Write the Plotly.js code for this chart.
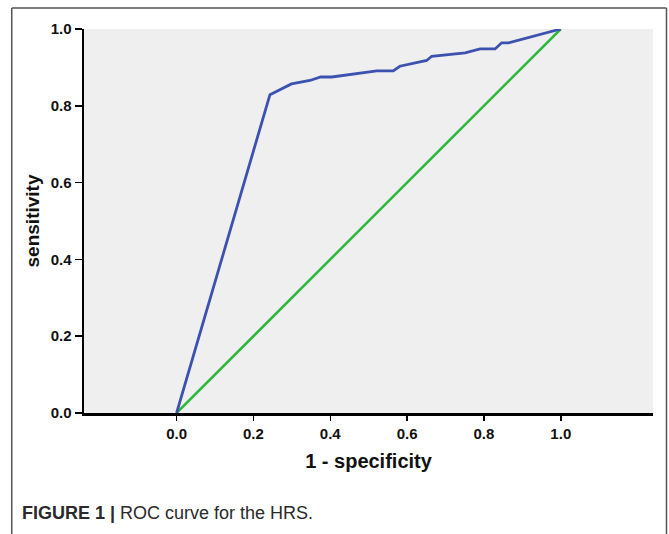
<!DOCTYPE html>
<html>
<head>
<meta charset="utf-8">
<script src="https://cdn.plot.ly/plotly-3.0.1.min.js"></script>
<style>
  html, body { margin: 0; padding: 0; background: #ffffff; }
  #chart { width: 669px; height: 534px; }
</style>
</head>
<body>
<div id="chart"></div>
<script>
// ROC curve
const rocFpr = [0, 0.243, 0.299, 0.347, 0.375, 0.404, 0.521, 0.564, 0.581, 0.651, 0.664, 0.751, 0.790, 0.829, 0.846, 0.864, 1.0];
const rocTpr = [0, 0.829, 0.857, 0.866, 0.875, 0.875, 0.891, 0.891, 0.903, 0.918, 0.929, 0.938, 0.948, 0.948, 0.964, 0.964, 1.0];
// reference (chance) diagonal
const refX = [0, 1];
const refY = [0, 1];
// tick values / labels
const tickVals = [0, 0.2, 0.4, 0.6, 0.8, 1.0];
const tickLabels = ["0.0", "0.2", "0.4", "0.6", "0.8", "1.0"];

const traces = [
  {
    x: refX, y: refY, type: "scatter", mode: "lines",
    line: { color: "#2db83d", width: 2.5 },
    hoverinfo: "skip", showlegend: false
  },
  {
    x: rocFpr, y: rocTpr, type: "scatter", mode: "lines",
    line: { color: "#3d52b0", width: 2.8 },
    showlegend: false
  }
];

const tickFont = { family: "Liberation Sans Narrow, Arial Narrow, Liberation Sans, sans-serif", size: 15, color: "#111111", weight: "bold" };

const layout = {
  width: 669, height: 534,
  margin: { l: 84, r: 16, t: 29, b: 121, pad: 0 },
  paper_bgcolor: "#ffffff",
  plot_bgcolor: "#efefef",
  showlegend: false,
  xaxis: {
    range: [-0.241, 1.24],
    tickvals: tickVals, ticktext: tickLabels,
    tickfont: tickFont,
    ticks: "outside", ticklen: 5, tickwidth: 1.5, tickcolor: "#000",
    showline: true, linecolor: "#000", linewidth: 2.5,
    showgrid: false, zeroline: false,
    automargin: false,
    title: { text: "1 - specificity", font: { family: "Liberation Sans, Arial, sans-serif", size: 20, color: "#111", weight: "bold" }, standoff: 14 }
  },
  yaxis: {
    range: [0, 1],
    tickvals: tickVals, ticktext: tickLabels,
    tickfont: tickFont,
    ticks: "outside", ticklen: 7, tickwidth: 1.5, tickcolor: "#000",
    showline: true, linecolor: "#000", linewidth: 2.5,
    showgrid: false, zeroline: false,
    automargin: false,
    title: { text: "sensitivity", font: { family: "Liberation Sans, Arial, sans-serif", size: 19, color: "#111", weight: "bold" }, standoff: 6 }
  },
  shapes: [
    { type: "line", xref: "paper", yref: "paper", x0: -0.127, x1: -0.127, y0: -0.35, y1: 1.0547, line: { color: "#555", width: 1.5 } },
    { type: "line", xref: "paper", yref: "paper", x0: -0.127, x1: 1.0237, y0: 1.0547, y1: 1.0547, line: { color: "#555", width: 1.5 } },
    { type: "line", xref: "paper", yref: "paper", x0: 1.0237, x1: 1.0237, y0: -0.35, y1: 1.0547, line: { color: "#555", width: 1.5 } }
  ],
  annotations: [
    {
      xref: "paper", yref: "paper", x: -0.112, y: -0.26, xanchor: "left", yanchor: "middle",
      showarrow: false, align: "left",
      text: "<b>FIGURE 1 |</b> ROC curve for the HRS.",
      font: { family: "Liberation Sans, Arial, sans-serif", size: 18, color: "#2a2a2a" }
    }
  ]
};

Plotly.newPlot("chart", traces, layout, { displayModeBar: false, staticPlot: true });
</script>
</body>
</html>
